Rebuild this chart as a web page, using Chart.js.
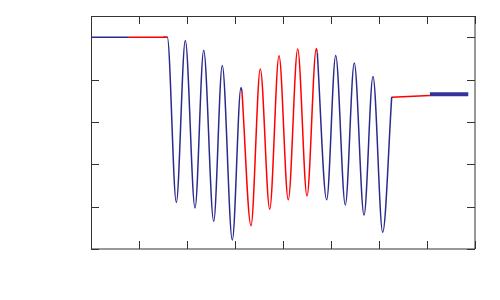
<!DOCTYPE html>
<html>
<head>
<meta charset="utf-8">
<script src="https://cdn.jsdelivr.net/npm/chart.js"></script>
<style>
html, body { margin: 0; padding: 0; background: #fff; }
</style>
</head>
<body>
<canvas id="chart" width="500" height="300"></canvas>
<script>
// tick positions (no labels in the original)
const xTicks = [0, 1, 2, 3, 4, 5, 6, 7, 8];
const yTicks = [0, 1, 2, 3, 4, 5];

// flat start
const startBlueX = [0, 0.79];
const startBlueY = [5.0, 5.0];
const startRedX = [0.79, 1.59];
const startRedY = [5.0, 5.0];

// oscillation, first blue part (extremes)
// first point sits under the red flat so the drop starts rounded
const oscBlue1X = [1.50, 1.59, 1.777, 1.965, 2.167, 2.348, 2.556, 2.735, 2.944, 3.125, 3.145];
const oscBlue1Y = [5.0, 5.0, 1.10, 4.92, 0.97, 4.69, 0.655, 4.33, 0.21, 3.81, 3.73];

// oscillation, red part
const oscRedX = [3.145, 3.333, 3.527, 3.723, 3.917, 4.110, 4.306, 4.5, 4.694, 4.714];
const oscRedY = [3.73, 0.55, 4.25, 0.94, 4.56, 1.16, 4.72, 1.25, 4.73, 4.64];

// oscillation, second blue part
const oscBlue2X = [4.714, 4.910, 5.098, 5.298, 5.485, 5.688, 5.875, 6.077, 6.265];
const oscBlue2Y = [4.64, 1.16, 4.57, 1.04, 4.39, 0.80, 4.07, 0.395, 3.59];

// flat end
const endRedX = [6.265, 7.06];
const endRedY = [3.58, 3.625];
const endBlueX = [7.06, 7.86];
const endBlueY = [3.65, 3.65];

const BLUE = '#2b2b8e';
const RED = '#ff0000';

function pts(xs, ys) {
    return xs.map((x, i) => ({ x: x, y: ys[i] }));
}

function line(xs, ys, color, width) {
    return {
        data: pts(xs, ys),
        borderColor: color,
        borderWidth: width || 1.5,
        pointRadius: 0,
        fill: false,
        cubicInterpolationMode: 'monotone',
        borderCapStyle: 'butt'
    };
}

// box with inward ticks on all four sides
const frameTicks = {
    id: 'frameTicks',
    beforeDatasetsDraw(chart) {
        const { ctx, chartArea: a, scales: { x, y } } = chart;
        const len = 8;
        ctx.save();
        ctx.strokeStyle = '#333';
        ctx.lineWidth = 1;
        ctx.beginPath();
        for (const v of xTicks) {
            const px = Math.round(x.getPixelForValue(v)) + 0.5;
            ctx.moveTo(px, a.bottom); ctx.lineTo(px, a.bottom - len);
            ctx.moveTo(px, a.top); ctx.lineTo(px, a.top + len);
        }
        for (const v of yTicks) {
            const py = Math.round(y.getPixelForValue(v)) + 0.5;
            ctx.moveTo(a.left, py); ctx.lineTo(a.left + len, py);
            ctx.moveTo(a.right, py); ctx.lineTo(a.right - len, py);
        }
        ctx.stroke();
        // frame
        ctx.beginPath();
        ctx.moveTo(a.left + 0.5, a.top + 0.5);
        ctx.lineTo(a.right, a.top + 0.5);
        ctx.lineTo(a.right, a.bottom);
        ctx.lineTo(a.left + 0.5, a.bottom);
        ctx.closePath();
        ctx.stroke();
        ctx.restore();
    }
};

new Chart(document.getElementById('chart'), {
    type: 'line',
    data: {
        // earlier datasets are drawn on top
        datasets: [
            line(startBlueX, startBlueY, BLUE),
            line(startRedX, startRedY, RED),
            line(oscBlue1X, oscBlue1Y, BLUE),
            line(oscRedX, oscRedY, RED),
            line(oscBlue2X, oscBlue2Y, BLUE),
            line(endRedX, endRedY, RED),
            line(endBlueX, endBlueY, '#333399', 4)
        ]
    },
    options: {
        responsive: false,
        animation: false,
        layout: { padding: { left: 91, right: 25, top: 16, bottom: 51 } },
        plugins: { legend: { display: false }, tooltip: { enabled: false } },
        scales: {
            x: { type: 'linear', min: 0, max: 8, display: false },
            y: { type: 'linear', min: 0, max: 5.5, display: false }
        }
    },
    plugins: [frameTicks]
});
</script>
</body>
</html>
